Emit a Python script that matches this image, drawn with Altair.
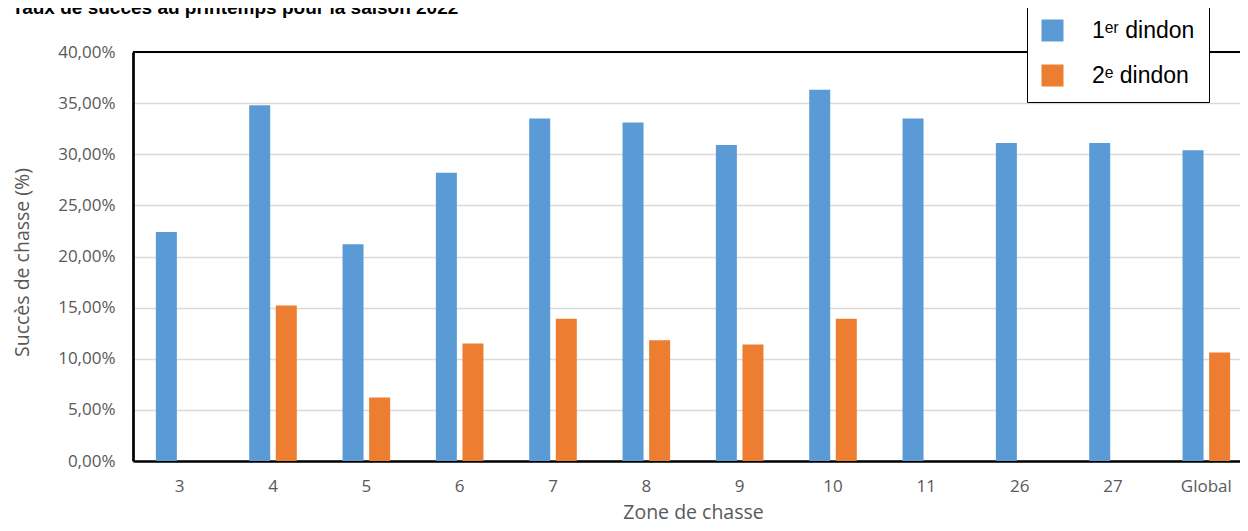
import altair as alt
import pandas as pd

zones = ["3", "4", "5", "6", "7", "8", "9", "10", "11", "26", "27", "Global"]
premier = [0.224, 0.348, 0.212, 0.282, 0.335, 0.331, 0.309, 0.363, 0.335, 0.311, 0.311, 0.304]
deuxieme = [None, 0.152, 0.062, 0.115, 0.139, 0.118, 0.114, 0.139, None, None, None, 0.106]
series = ["1ᵉʳ dindon", "2ᵉ dindon"]
colors = ["#5b9bd5", "#ed7d31"]
y_ticks = [0, 0.05, 0.10, 0.15, 0.20, 0.25, 0.30, 0.35, 0.40]
title_text = "Taux de succès au printemps pour la saison 2022"

rows = []
for z, a, b in zip(zones, premier, deuxieme):
    rows.append({"zone": z, "serie": series[0], "val": a})
    if b is not None:
        rows.append({"zone": z, "serie": series[1], "val": b})
df = pd.DataFrame(rows)

narrow = "Liberation Sans Narrow, Arial Narrow, Liberation Sans, sans-serif"
sans = "Open Sans, Lato, sans-serif"

bars = alt.Chart(df).mark_bar().encode(
    x=alt.X("zone:N", sort=zones,
            scale=alt.Scale(paddingInner=0.49, paddingOuter=0.245, range=[0, 1120]),
            axis=alt.Axis(title="Zone de chasse", labelAngle=0, labelFont=sans,
                          labelFontSize=17, labelColor="#595959", labelPadding=17,
                          ticks=False, domain=True, domainColor="black", domainWidth=2.7,
                          titleFont=sans, titleFontSize=19.5, titleColor="#595959",
                          titleFontWeight="normal", titleBaseline="alphabetic",
                          titleY=57)),
    xOffset=alt.XOffset("serie:N", sort=series,
                        scale=alt.Scale(paddingInner=0.21, paddingOuter=0)),
    y=alt.Y("val:Q", scale=alt.Scale(domain=[0, 0.40], nice=False),
            axis=alt.Axis(title="Succès de chasse (%)", values=y_ticks,
                          labelExpr="replace(format(datum.value, '.2%'), '.', ',')",
                          labelFont=sans, labelFontSize=17, labelColor="#595959",
                          labelPadding=18, ticks=False, domain=True, domainColor="black",
                          domainWidth=2.7, grid=True, gridColor="#d9d9d9", gridWidth=1.3,
                          titleFont=sans, titleFontSize=19.5, titleColor="#595959",
                          titleFontWeight="normal", titleBaseline="alphabetic",
                          titleX=-105, titleY=210)),
    color=alt.Color("serie:N", sort=series,
                    scale=alt.Scale(domain=series, range=colors),
                    legend=alt.Legend(title=None, orient="none", legendX=894, legendY=-47,
                                      padding=14, strokeColor="black", fillColor="white",
                                      symbolType="square", symbolSize=484,
                                      symbolStrokeWidth=0, symbolOpacity=1,
                                      labelFont=narrow, labelFontSize=23,
                                      labelColor="black", labelOffset=28,
                                      rowPadding=21, labelLimit=300)),
)

top_line = alt.Chart(pd.DataFrame({"y": [0.40]})).mark_rule(
    color="black", strokeWidth=2.2
).encode(y="y:Q")

title = alt.Chart(pd.DataFrame({"t": [title_text]})).mark_text(
    align="left", baseline="alphabetic", font=narrow, fontSize=19,
    fontWeight="bold", color="black"
).encode(x=alt.value(-121), y=alt.value(-38), text="t:N")

chart = alt.layer(bars, top_line, title).properties(
    width=1107,
    height=409,
    autosize=alt.AutoSizeParams(type="none"),
    padding={"left": 125, "top": 44, "right": 0, "bottom": 62},
).configure_view(stroke=None)

chart.save("out.html", embed_options={"renderer": "svg", "actions": False})
